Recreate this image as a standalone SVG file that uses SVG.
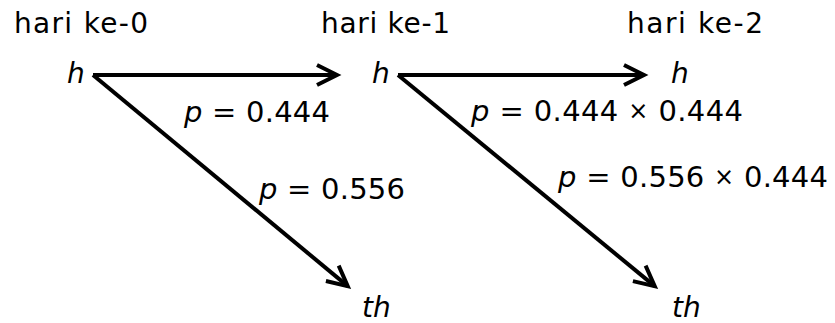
<svg xmlns="http://www.w3.org/2000/svg" width="835" height="323" viewBox="0 0 835 323">
<style>
text{font-family:"DejaVu Sans","Liberation Sans",Arial,sans-serif;font-size:28px;fill:#000}
.lbl{font-size:29px}
.i{font-style:italic}
.x{font-size:24px}
.c{stroke:#000;stroke-width:4;fill:none}
</style>
<defs>
<marker id="ah" markerUnits="userSpaceOnUse" viewBox="-26 -14 32 28" refX="0" refY="0" markerWidth="32" markerHeight="28" orient="auto" overflow="visible">
<path d="M-20,-10 L0,0 L-20,10" fill="none" stroke="#000" stroke-width="4" stroke-linejoin="miter"/>
</marker>
</defs>
<rect width="835" height="323" fill="#fff"/>
<g id="day0"><text x="14" y="33" textLength="134" lengthAdjust="spacing">hari ke-0</text></g>
<g id="day1"><text x="321" y="33" textLength="129" lengthAdjust="spacing">hari ke-1</text></g>
<g id="day2"><text x="627" y="33" textLength="136" lengthAdjust="spacing">hari ke-2</text></g>
<g id="h0"><text class="i" x="67" y="83">h</text></g>
<g id="h1"><text class="i" x="372" y="83">h</text></g>
<g id="h2"><text class="i" x="671" y="83">h</text></g>
<g id="th1"><text class="i" x="362" y="317">th</text></g>
<g id="th2"><text class="i" x="672" y="317">th</text></g>
<g id="connectors">
<line class="c" x1="93" y1="75" x2="337" y2="75" marker-end="url(#ah)"/>
<line class="c" x1="93" y1="75" x2="347.7" y2="286.1" marker-end="url(#ah)"/>
<line class="c" x1="398" y1="75" x2="644" y2="75" marker-end="url(#ah)"/>
<line class="c" x1="398" y1="75" x2="654.7" y2="286.1" marker-end="url(#ah)"/>
<text class="lbl" x="184" y="122" textLength="146" lengthAdjust="spacing"><tspan class="i">p</tspan> = 0.444</text>
<text class="lbl" x="259" y="199" textLength="146" lengthAdjust="spacing"><tspan class="i">p</tspan> = 0.556</text>
<text class="lbl" x="471" y="121" textLength="272" lengthAdjust="spacing"><tspan class="i">p</tspan> = 0.444 <tspan class="x" dy="-2">×</tspan><tspan dy="2"> 0.444</tspan></text>
<text class="lbl" x="558" y="187" textLength="270" lengthAdjust="spacing"><tspan class="i">p</tspan> = 0.556 <tspan class="x" dy="-2">×</tspan><tspan dy="2"> 0.444</tspan></text>
</g>
</svg>
